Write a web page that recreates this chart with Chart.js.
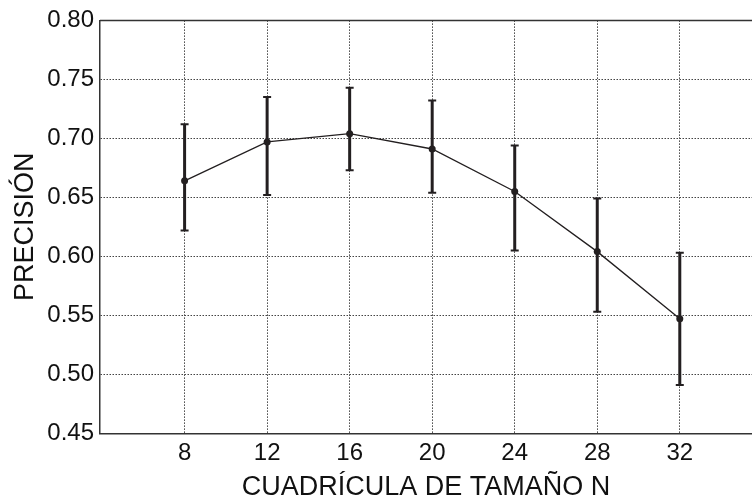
<!DOCTYPE html>
<html>
<head>
<meta charset="utf-8">
<script src="https://cdn.jsdelivr.net/npm/chart.js@4.4.1/dist/chart.umd.min.js"></script>
<style>
  html, body { margin: 0; padding: 0; background: #fff; overflow: hidden; }
  #chart { display: block; }
</style>
</head>
<body>
<canvas id="chart" width="752" height="499"></canvas>
<script>
"use strict"

// grid size N and measured precision (mean, lower and upper error bar)
const sizes = [8, 12, 16, 20, 24, 28, 32];
const precision = [0.664, 0.697, 0.704, 0.691, 0.655, 0.604, 0.547];
const errLow = [0.622, 0.652, 0.673, 0.654, 0.605, 0.553, 0.491];
const errHigh = [0.712, 0.735, 0.743, 0.732, 0.694, 0.649, 0.603];
const yTicks = [0.45, 0.50, 0.55, 0.60, 0.65, 0.70, 0.75, 0.80];

const ink = '#231f20';
const fontFamily = '"Liberation Sans", Arial, Helvetica, sans-serif';

// error bars and the top frame line, drawn through the chart's scales
const errorBars = {
  id: 'errorBars',
  beforeDatasetsDraw(chart) {
    let ctx = chart.ctx;
    let xs = chart.scales.x;
    let ys = chart.scales.y;
    ctx.save();
    ctx.strokeStyle = ink;
    for (let i = 0; i < sizes.length; i++) {
      let x = xs.getPixelForValue(sizes[i]);
      let y1 = ys.getPixelForValue(errLow[i]);
      let y2 = ys.getPixelForValue(errHigh[i]);
      ctx.lineWidth = 3;
      ctx.beginPath();
      ctx.moveTo(x, y1);
      ctx.lineTo(x, y2);
      ctx.stroke();
      ctx.lineWidth = 2;
      ctx.beginPath();
      ctx.moveTo(x - 4, y1);
      ctx.lineTo(x + 4, y1);
      ctx.moveTo(x - 4, y2);
      ctx.lineTo(x + 4, y2);
      ctx.stroke();
    }
    ctx.restore();
  },
  afterDraw(chart) {
    let ctx = chart.ctx;
    let area = chart.chartArea;
    ctx.save();
    ctx.strokeStyle = '#333';
    ctx.lineWidth = 1.5;
    ctx.beginPath();
    ctx.moveTo(area.left, area.top);
    ctx.lineTo(area.right, area.top);
    ctx.stroke();
    ctx.restore();
  }
};

let ctx = document.getElementById('chart').getContext('2d');
let chart = new Chart(ctx, {
  type: 'line',
  data: {
    datasets: [{
      label: 'Precisión',
      data: sizes.map((s, i) => ({x: s, y: precision[i]})),
      borderColor: ink,
      backgroundColor: ink,
      borderWidth: 1.3,
      pointRadius: 3.5,
      pointBackgroundColor: ink,
      pointBorderWidth: 0,
      tension: 0
    }]
  },
  options: {
    responsive: false,
    animation: false,
    devicePixelRatio: 1,
    layout: { autoPadding: false, padding: { left: 0, right: 0, top: 19, bottom: 0 } },
    plugins: {
      legend: { display: false },
      tooltip: { enabled: false }
    },
    scales: {
      x: {
        type: 'linear',
        min: 3.9,
        max: 35.5,
        afterBuildTicks(axis) { axis.ticks = sizes.map(v => ({value: v})); },
        ticks: {
          color: '#111',
          font: { family: fontFamily, size: 24 },
          padding: 6
        },
        grid: {
          color: '#444',
          lineWidth: 1,
          drawTicks: false
        },
        border: { display: true, color: '#333', width: 1.5, dash: [1.5, 1.5] },
        title: {
          display: true,
          text: 'CUADRÍCULA DE TAMAÑO N',
          color: '#111',
          font: { family: fontFamily, size: 27 },
          padding: { top: -3, bottom: -4.5 }
        }
      },
      y: {
        min: 0.45,
        max: 0.80,
        afterBuildTicks(axis) { axis.ticks = yTicks.map(v => ({value: v})); },
        afterFit(axis) { axis.width = 100; },
        ticks: {
          color: '#111',
          font: { family: fontFamily, size: 24 },
          padding: 6,
          callback: v => v.toFixed(2)
        },
        grid: {
          color: '#444',
          lineWidth: 1,
          drawTicks: false
        },
        border: { display: true, color: '#333', width: 1.5, dash: [1.5, 1.5] },
        title: {
          display: true,
          text: 'PRECISIÓN',
          color: '#111',
          font: { family: fontFamily, size: 27 },
          padding: { top: 9, bottom: 0 }
        }
      }
    }
  },
  plugins: [errorBars]
});
</script>
</body>
</html>
